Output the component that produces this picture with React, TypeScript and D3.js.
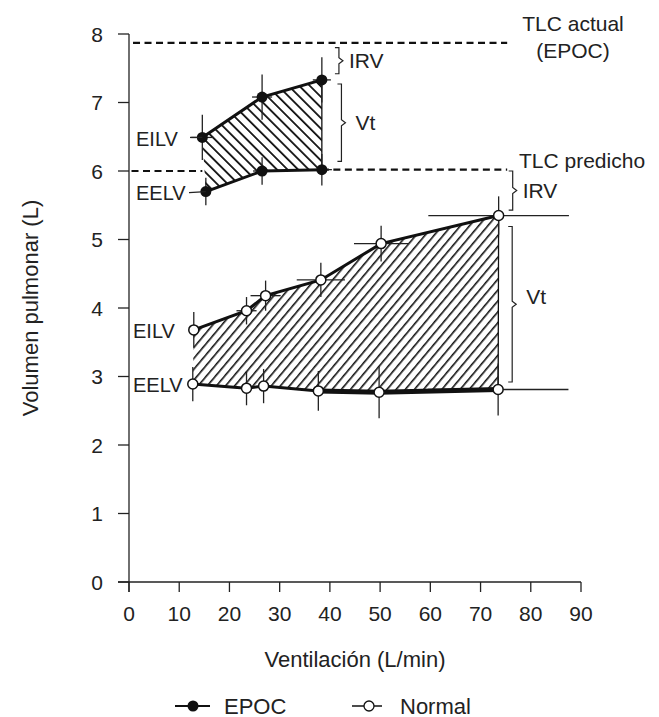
import React from 'react';
import * as d3 from 'd3';

const W = 659;
const H = 717;

const xTicks = [0, 10, 20, 30, 40, 50, 60, 70, 80, 90];
const yTicks = [0, 1, 2, 3, 4, 5, 6, 7, 8];

// EPOC (filled circles)
const copdEILVVent = [14.6, 26.5, 38.4];
const copdEILV = [6.49, 7.08, 7.33];
const copdEILVErrY = [0.33, 0.33, 0.33];
const copdEILVErrX = [2.2, 2.0, 1.8];
const copdEELVVent = [15.3, 26.5, 38.4];
const copdEELV = [5.7, 6.0, 6.02];
const copdEELVErrY = [0.2, 0.2, 0.23];
const copdEELVErrX = [0, 1.8, 2.0];

// Normal (open circles)
const normEILVVent = [12.9, 23.4, 27.2, 38.2, 50.2, 73.6];
const normEILV = [3.68, 3.96, 4.18, 4.41, 4.94, 5.35];
const normEILVErrY = [0.26, 0.2, 0.22, 0.25, 0.26, 0.28];
const normEILVErrX = [0, 2, 3, 4.8, 5.4, 14];
const normEELVVent = [12.7, 23.4, 26.8, 37.7, 49.8, 73.5];
const normEELV = [2.89, 2.83, 2.86, 2.79, 2.77, 2.81];
const normEELVErrY = [0.25, 0.25, 0.25, 0.29, 0.38, 0.38];
const normEELVErrX = [0, 0, 0, 0, 0, 14];

// Reference lines
const tlcActual = 7.87;
const tlcActualFrom = 0.8;
const tlcTo = 75.3;
const tlcPredicho = 6.0;
const tlcPredFrom = 0.5;

// Braces
const braceVent = [41.8, 42.3, 76.4, 76.3];
const braceTop = [7.8, 7.27, 6.0, 5.19];
const braceBottom = [7.42, 6.14, 5.43, 2.92];
const braceLabels = ['IRV', 'Vt', 'IRV', 'Vt'];

const FONT = 'Liberation Sans, Arial, Helvetica, sans-serif';

const x = d3.scaleLinear().domain([0, 90]).range([129, 581]);
const y = d3.scaleLinear().domain([0, 8]).range([582, 34]);

const zip = (xs: number[], ys: number[]) => xs.map((v, i) => [v, ys[i]] as [number, number]);

const line = d3
  .line<[number, number]>()
  .x((d) => x(d[0]))
  .y((d) => y(d[1]));

function areaPath(topX: number[], topY: number[], botX: number[], botY: number[]) {
  const pts = [...zip(topX, topY), ...zip(botX, botY).reverse()];
  return line(pts) + 'Z';
}

function ErrBars({ vx, vy, ex, ey }: { vx: number[]; vy: number[]; ex: number[]; ey: number[] }) {
  return (
    <g stroke="#222" strokeWidth={1.3}>
      {vx.map((v, i) => (
        <g key={i}>
          {ey[i] > 0 && <line x1={x(v)} x2={x(v)} y1={y(vy[i] - ey[i])} y2={y(vy[i] + ey[i])} />}
          {ex[i] > 0 && <line x1={x(v - ex[i])} x2={x(v + ex[i])} y1={y(vy[i])} y2={y(vy[i])} />}
        </g>
      ))}
    </g>
  );
}

function Brace({ vx, y1, y2 }: { vx: number; y1: number; y2: number }) {
  const bx = x(vx);
  const t = y(y1);
  const b = y(y2);
  const m = (t + b) / 2;
  const d = `M${bx - 4},${t} L${bx},${t} L${bx},${m - 3} L${bx + 4},${m} L${bx},${m + 3} L${bx},${b} L${bx - 4},${b}`;
  return <path d={d} fill="none" stroke="#222" strokeWidth={1.2} />;
}

export default function App() {
  return (
    <svg
      width={W}
      height={H}
      style={{ position: 'absolute', left: 0, top: 0, background: '#fff' }}
      fontFamily={FONT}
    >
      <defs>
        <pattern id="hatchCopd" patternUnits="userSpaceOnUse" width={7.5} height={10} patternTransform="rotate(-45)">
          <line x1={0} y1={0} x2={0} y2={10} stroke="#111" strokeWidth={3.6} />
        </pattern>
        <pattern id="hatchNorm" patternUnits="userSpaceOnUse" width={7} height={10} patternTransform="rotate(40)">
          <line x1={0} y1={0} x2={0} y2={10} stroke="#111" strokeWidth={3.2} />
        </pattern>
      </defs>

      {/* axes */}
      <g stroke="#222" strokeWidth={1.3}>
        <line x1={x(0)} x2={x(0)} y1={y(0) + 10} y2={y(8)} />
        <line x1={x(0) - 11} x2={x(90)} y1={y(0)} y2={y(0)} />
        {yTicks.map((t) => (
          <line key={t} x1={x(0) - 11} x2={x(0)} y1={y(t)} y2={y(t)} />
        ))}
        {xTicks.map((t) => (
          <line key={t} x1={x(t)} x2={x(t)} y1={y(0)} y2={y(0) + 10} />
        ))}
      </g>
      <g fontSize={21} fill="#222">
        {yTicks.map((t) => (
          <text key={t} x={103} y={y(t)} textAnchor="end" dominantBaseline="central">
            {t}
          </text>
        ))}
        {xTicks.map((t) => (
          <text key={t} x={x(t)} y={613} textAnchor="middle" dominantBaseline="central">
            {t}
          </text>
        ))}
      </g>
      <text x={355} y={659} fontSize={22} fill="#222" textAnchor="middle" dominantBaseline="central">
        Ventilación (L/min)
      </text>
      <text
        transform={`translate(30,308) rotate(-90)`}
        fontSize={22}
        fill="#222"
        textAnchor="middle"
        dominantBaseline="central"
      >
        Volumen pulmonar (L)
      </text>

      {/* dashed TLC lines */}
      <g stroke="#111" strokeWidth={2.2} strokeDasharray="7,4.5" fill="none">
        <line x1={x(tlcActualFrom)} x2={x(tlcTo)} y1={y(tlcActual)} y2={y(tlcActual)} />
        <line x1={x(tlcPredFrom)} x2={x(copdEILVVent[0])} y1={y(tlcPredicho)} y2={y(tlcPredicho)} />
        <line x1={x(copdEELVVent[2])} x2={x(tlcTo)} y1={y(copdEELV[2])} y2={y(copdEELV[2])} />
      </g>

      {/* hatched areas */}
      <path d={areaPath(normEILVVent, normEILV, normEELVVent, normEELV)} fill="url(#hatchNorm)" stroke="none" />
      <path d={areaPath(copdEILVVent, copdEILV, copdEELVVent, copdEELV)} fill="url(#hatchCopd)" stroke="none" />
      <line
        x1={x(normEILVVent[5])}
        x2={x(normEELVVent[5])}
        y1={y(normEILV[5])}
        y2={y(normEELV[5])}
        stroke="#111"
        strokeWidth={1.3}
      />
      <line
        x1={x(copdEILVVent[2])}
        x2={x(copdEELVVent[2])}
        y1={y(copdEILV[2])}
        y2={y(copdEELV[2])}
        stroke="#111"
        strokeWidth={1.3}
      />

      {/* error bars */}
      <ErrBars vx={normEILVVent} vy={normEILV} ex={normEILVErrX} ey={normEILVErrY} />
      <ErrBars vx={normEELVVent} vy={normEELV} ex={normEELVErrX} ey={normEELVErrY} />
      <ErrBars vx={copdEILVVent} vy={copdEILV} ex={copdEILVErrX} ey={copdEILVErrY} />
      <ErrBars vx={copdEELVVent} vy={copdEELV} ex={copdEELVErrX} ey={copdEELVErrY} />

      {/* lines */}
      <g fill="none" stroke="#111" strokeWidth={3}>
        <path d={line(zip(normEILVVent, normEILV))!} />
        <path d={line(zip(normEELVVent, normEELV))!} />
        <path d={line(zip(normEELVVent, normEELV).slice(3))!} strokeWidth={5} />
        <path d={line(zip(copdEILVVent, copdEILV))!} />
        <path d={line(zip(copdEELVVent, copdEELV))!} />
      </g>

      {/* markers */}
      {normEILVVent.map((v, i) => (
        <circle key={'ni' + i} cx={x(v)} cy={y(normEILV[i])} r={5} fill="#fff" stroke="#111" strokeWidth={1.5} />
      ))}
      {normEELVVent.map((v, i) => (
        <circle key={'ne' + i} cx={x(v)} cy={y(normEELV[i])} r={5} fill="#fff" stroke="#111" strokeWidth={1.5} />
      ))}
      {copdEILVVent.map((v, i) => (
        <circle key={'ci' + i} cx={x(v)} cy={y(copdEILV[i])} r={5.5} fill="#111" />
      ))}
      {copdEELVVent.map((v, i) => (
        <circle key={'ce' + i} cx={x(v)} cy={y(copdEELV[i])} r={5.5} fill="#111" />
      ))}

      {/* EILV / EELV labels */}
      <g fontSize={20} fill="#222" dominantBaseline="central">
        <text x={136} y={y(copdEILV[0]) + 2}>EILV</text>
        <text x={136} y={y(copdEELV[0]) + 1}>EELV</text>
        <text x={133} y={y(normEILV[0]) + 1}>EILV</text>
        <text x={133} y={y(normEELV[0]) + 1}>EELV</text>
      </g>
      <g stroke="#222" strokeWidth={1.3}>
        <line x1={190} x2={x(copdEILVVent[0])} y1={y(copdEILV[0])} y2={y(copdEILV[0])} />
        <line x1={189} x2={x(copdEELVVent[0])} y1={y(copdEELV[0]) + 1} y2={y(copdEELV[0])} />
      </g>

      {/* braces */}
      {braceVent.map((v, i) => (
        <g key={'b' + i}>
          <Brace vx={v} y1={braceTop[i]} y2={braceBottom[i]} />
          <text
            x={x(v) + (braceLabels[i] === 'Vt' ? 14 : 10)}
            y={(y(braceTop[i]) + y(braceBottom[i])) / 2 - (i === 3 ? 8 : 0)}
            fontSize={21}
            fill="#222"
            dominantBaseline="central"
          >
            {braceLabels[i]}
          </text>
        </g>
      ))}

      {/* TLC labels */}
      <g fontSize={21} fill="#222" dominantBaseline="central">
        <text x={573} y={23} textAnchor="middle">TLC actual</text>
        <text x={573} y={50} textAnchor="middle">(EPOC)</text>
        <text x={519} y={160}>TLC predicho</text>
      </g>

      {/* legend */}
      <g>
        <line x1={175} x2={210} y1={706} y2={706} stroke="#111" strokeWidth={2.2} />
        <circle cx={193} cy={706} r={5.5} fill="#111" />
        <text x={224} y={706} fontSize={22} fill="#222" dominantBaseline="central">EPOC</text>
        <line x1={352} x2={382} y1={706} y2={706} stroke="#111" strokeWidth={1.5} />
        <circle cx={369} cy={706} r={5} fill="#fff" stroke="#111" strokeWidth={1.3} />
        <text x={400} y={706} fontSize={22} fill="#222" dominantBaseline="central">Normal</text>
      </g>
    </svg>
  );
}
